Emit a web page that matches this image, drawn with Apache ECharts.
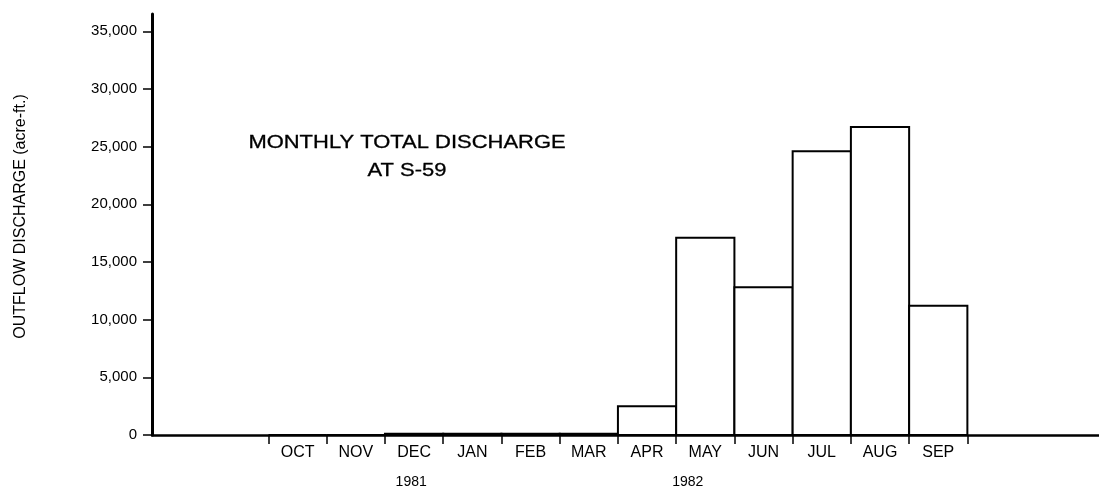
<!DOCTYPE html>
<html>
<head>
<meta charset="utf-8">
<script src="https://cdn.jsdelivr.net/npm/echarts@6/dist/echarts.min.js"></script>
<style>
  html, body { margin: 0; padding: 0; background: #fff; }
  #chart { width: 1099px; height: 492px; }
</style>
</head>
<body>
<div id="chart"></div>
<script>
// ---- data ----
const months = ['OCT', 'NOV', 'DEC', 'JAN', 'FEB', 'MAR', 'APR', 'MAY', 'JUN', 'JUL', 'AUG', 'SEP'];
const discharge = [0, 0, 100, 100, 100, 100, 2500, 17100, 12800, 24600, 26700, 11200];
const yTicks = [0, 5000, 10000, 15000, 20000, 25000, 30000, 35000];
const years = ['1981', '1982'];
const titleLines = ['MONTHLY TOTAL DISCHARGE', 'AT S-59'];
const yName = 'OUTFLOW DISCHARGE (acre-ft.)';

// ---- chart ----
const FONT = '"Liberation Sans", Arial, Helvetica, sans-serif';
const chart = echarts.init(document.getElementById('chart'), null, { renderer: 'canvas' });

const xMin = -2, xMax = 14.26;
const gridBox = { left: 152, right: 0, top: 14, bottom: 57 };
const boundaries = months.map((m, i) => i).concat([months.length]);
const centers = months.map((m, i) => i + 0.5);
const yearPos = [2.45, 7.2];

const option = {
  backgroundColor: '#ffffff',
  animation: false,
  grid: [
    Object.assign({}, gridBox),
    Object.assign({}, gridBox)
  ],
  graphic: [{
    type: 'text',
    x: 407,
    y: 129,
    scaleX: 1.22,
    style: {
      text: titleLines.join('\n'),
      x: 0, y: 0,
      align: 'center',
      verticalAlign: 'top',
      lineHeight: 28,
      font: '18px ' + FONT,
      fill: '#000',
      stroke: '#000',
      lineWidth: 0.3
    }
  }],
  xAxis: [{
    type: 'value',
    gridIndex: 0,
    min: xMin, max: xMax,
    interval: 1,
    splitLine: { show: false },
    axisLine: { show: true, onZero: false, lineStyle: { color: '#000', width: 2.5 } },
    axisTick: { show: true, length: 9, customValues: boundaries, lineStyle: { color: '#000', width: 1.5 } },
    axisLabel: {
      customValues: centers,
      margin: 10,
      color: '#000',
      fontFamily: FONT,
      fontSize: 16,
      formatter: v => months[Math.floor(v)] || ''
    }
  }, {
    type: 'value',
    gridIndex: 1,
    min: xMin, max: xMax,
    position: 'bottom',
    splitLine: { show: false },
    axisLine: { show: false },
    axisTick: { show: false },
    axisLabel: {
      customValues: yearPos,
      margin: 40,
      color: '#000',
      fontFamily: FONT,
      fontSize: 14,
      formatter: v => years[yearPos.indexOf(v)] || ''
    }
  }],
  yAxis: [{
    type: 'value',
    gridIndex: 0,
    min: 0, max: 36500,
    interval: 5000,
    splitLine: { show: false },
    name: yName,
    nameLocation: 'middle',
    nameGap: 123,
    nameTextStyle: { color: '#000', fontFamily: FONT, fontSize: 16, padding: [0, 0, 0, 16] },
    axisLine: { show: true, onZero: false, lineStyle: { color: '#000', width: 3 } },
    axisTick: { show: true, length: 9, customValues: yTicks, lineStyle: { color: '#000', width: 1.5 } },
    axisLabel: {
      customValues: yTicks,
      margin: 15,
      color: '#000',
      fontFamily: FONT,
      fontSize: 15,
      formatter: v => v.toLocaleString('en-US')
    }
  }, {
    type: 'value',
    gridIndex: 1,
    min: 0, max: 36500,
    show: false
  }],
  series: [{
    type: 'custom',
    xAxisIndex: 0,
    yAxisIndex: 0,
    data: months.map((m, i) => [i, discharge[i]]),
    renderItem: function (params, api) {
      const i = api.value(0);
      const v = api.value(1);
      const p0 = api.coord([i, 0]);
      const p1 = api.coord([i + 1, v]);
      return {
        type: 'rect',
        shape: { x: p0[0], y: p1[1], width: p1[0] - p0[0], height: p0[1] - p1[1] },
        style: { fill: '#ffffff', stroke: '#000', lineWidth: 2 }
      };
    }
  }]
};
chart.setOption(option);
</script>
</body>
</html>
